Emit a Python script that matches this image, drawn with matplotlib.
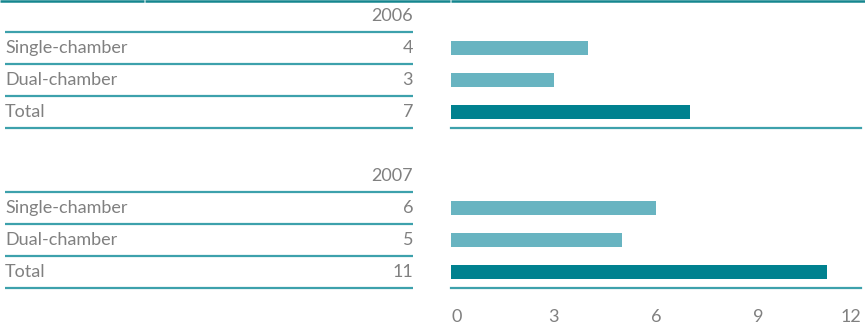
import matplotlib
matplotlib.use("Agg")
import matplotlib.pyplot as plt
from matplotlib.lines import Line2D

# pacemaker implants per year
years = ["2006", "2007"]
categories = ["Single-chamber", "Dual-chamber", "Total"]
values_2006 = [4, 3, 7]
values_2007 = [6, 5, 11]
x_ticks = [0, 3, 6, 9, 12]

W, H = 865, 324
light_bar = "#68b4c1"
dark_bar = "#00818f"
rule_col = "#3da1ac"
top_col = "#15868f"
text_col = "#808080"

plt.rcParams['font.family'] = ['Lato', 'DejaVu Sans']
FS = 13


def fx(x):
    return x / W


def fy(y):
    return 1 - y / H


def hline(fig, x0, x1, y, color=rule_col, lw=1.6):
    fig.add_artist(Line2D([fx(x0), fx(x1)], [fy(y), fy(y)], color=color,
                          lw=lw, transform=fig.transFigure, solid_capstyle='butt'))


def block(fig, year, values, top, show_ticks):
    # table on the left
    fig.text(fx(413), fy(top - 16), year, ha='right', va='center',
             fontsize=FS, color=text_col)
    hline(fig, 5, 413, top)
    for i, (cat, v) in enumerate(zip(categories, values)):
        yc = top + 16 + 32 * i
        fig.text(fx(5), fy(yc), cat, ha='left', va='center',
                 fontsize=FS, color=text_col)
        fig.text(fx(413), fy(yc), str(v), ha='right', va='center',
                 fontsize=FS, color=text_col)
        hline(fig, 5, 413, top + 32 * (i + 1))

    # bars on the right
    ax = fig.add_axes([fx(451), fy(top + 96), fx(861) - fx(451), 96 / H])
    colors = [light_bar, light_bar, dark_bar]
    ax.barh(range(len(values)), values, height=0.44, color=colors)
    ax.set_xlim(0, 12)
    ax.set_ylim(2.5, -0.5)
    ax.set_yticks([])
    for s in ['top', 'left', 'right']:
        ax.spines[s].set_visible(False)
    ax.spines['bottom'].set_color(rule_col)
    ax.spines['bottom'].set_linewidth(1.6)
    ax.set_xticks(x_ticks)
    if show_ticks:
        ax.tick_params(axis='x', length=0, pad=15, labelsize=FS,
                       labelcolor=text_col)
        labels = ax.get_xticklabels()
        labels[0].set_ha('left')
        labels[-1].set_ha('right')
    else:
        ax.tick_params(axis='x', length=0, labelbottom=False)
    ax.patch.set_visible(False)
    return ax


fig = plt.figure(figsize=(W / 100, H / 100), dpi=100)

# rule across the top
hline(fig, 0, 143.5, 1, color=top_col, lw=1.8)
hline(fig, 144.5, 450, 1, color=top_col, lw=1.8)
hline(fig, 451, 865, 1, color=top_col, lw=1.8)

block(fig, years[0], values_2006, 32, False)
block(fig, years[1], values_2007, 192, True)

fig.savefig("out.png", dpi=100)
